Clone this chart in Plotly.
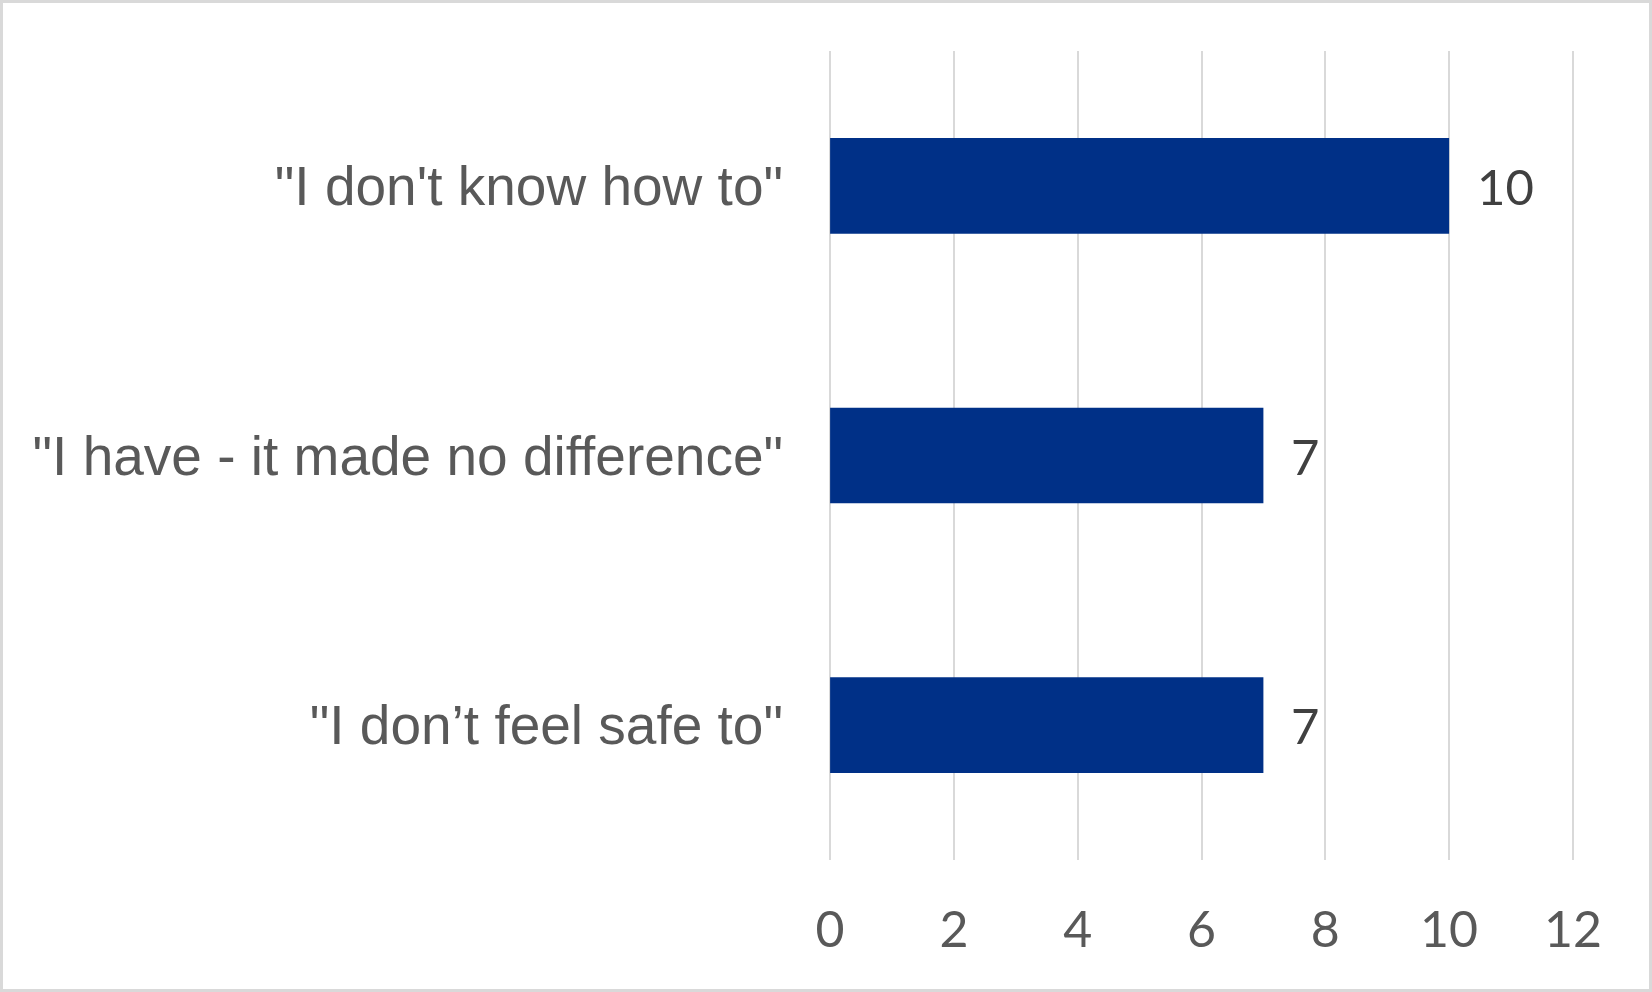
import plotly.graph_objects as go

# survey answers, top to bottom
answers = ['"I don\'t know how to"', '"I have - it made no difference"', '"I don\u2019t feel safe to"']
counts = [10, 7, 7]
x_ticks = [0, 2, 4, 6, 8, 10, 12]

W, H = 1652, 992
pad = 0.05                      # small overhang so the 0 and 12 gridlines are drawn
unit = 743 / 12                 # pixels per count
L = round(830 - pad * unit)
R = round(W - L - (12 + 2 * pad) * unit)
T, B = 51, 132

fig = go.Figure()
fig.add_trace(go.Bar(
    y=answers, x=counts, orientation="h",
    marker=dict(color="#003087", line=dict(width=0)),
    width=0.355, hoverinfo="skip"))

# value labels to the right of each bar
for a, c in zip(answers, counts):
    fig.add_annotation(x=c, y=a, text=str(c), showarrow=False,
                       xanchor="left", xshift=26,
                       font=dict(family="Lato", size=49, color="#404040"))

# light grey frame round the whole picture
pw, ph = W - L - R, H - T - B
fig.add_shape(type="rect", xref="paper", yref="paper",
              x0=-(L - 1.5) / pw, x1=1 + (R - 1.5) / pw,
              y0=-(B - 1.5) / ph, y1=1 + (T - 1.5) / ph,
              line=dict(color="#d9d9d9", width=3))

fig.update_layout(
    width=W, height=H,
    margin=dict(l=L, r=R, t=T, b=B),
    plot_bgcolor="white", paper_bgcolor="white",
    showlegend=False,
    font=dict(family="Liberation Sans", color="#595959"),
)
fig.update_xaxes(range=[-pad, 12 + pad], tickvals=x_ticks, showgrid=True,
                 gridcolor="#d9d9d9", gridwidth=2, zeroline=False,
                 showline=False, ticks="outside", ticklen=26,
                 tickcolor="rgba(0,0,0,0)",
                 tickfont=dict(family="Lato", size=50, color="#595959"))
fig.update_yaxes(categoryorder="array", categoryarray=answers,
                 range=[2.5, -0.5], showgrid=False, zeroline=False,
                 showline=False, ticks="outside", ticklen=32,
                 tickcolor="rgba(0,0,0,0)",
                 tickfont=dict(family="Liberation Sans", size=55, color="#595959"))

fig.write_html("out.html", config={"displayModeBar": False},
               post_script="document.body.style.margin='0';")
